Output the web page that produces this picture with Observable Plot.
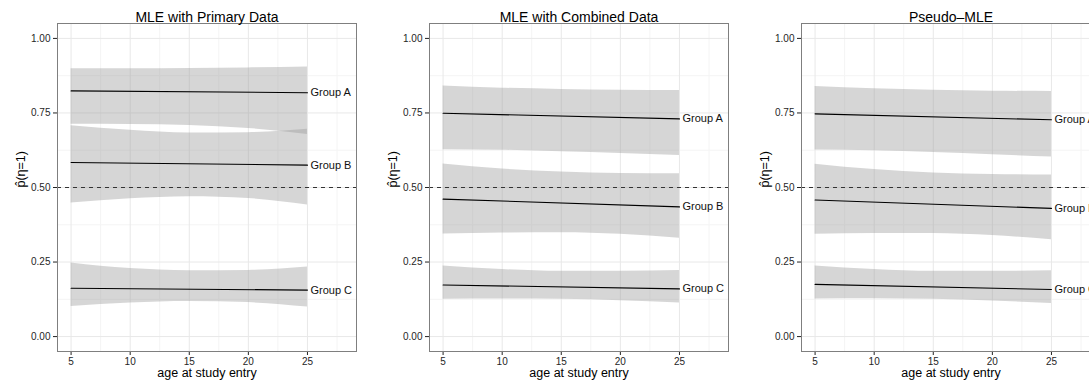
<!DOCTYPE html>
<html>
<head>
<meta charset="utf-8">
<script src="https://cdn.jsdelivr.net/npm/d3@7"></script>
<script src="https://cdn.jsdelivr.net/npm/@observablehq/plot@0.6"></script>
<style>
  html, body { margin: 0; padding: 0; background: #fff; }
  #wrap { position: relative; width: 1089px; height: 386px; overflow: hidden; background: #fff; }
  #wrap > div { position: absolute; top: 0; width: 372px; height: 386px; }
  #wrap svg { max-width: none !important; width: 372px; height: 386px; }
  #wrap svg g[aria-label*="axis"],
  #wrap svg g[aria-label*="axis"] text { font-size: 10px !important; fill: #262626; }
</style>
</head>
<body>
<div id="wrap"></div>
<script>
// ---- data ----
const ages = [5, 10, 15, 20, 25];
const lineAges = [5, 25];
const groups = ["Group A", "Group B", "Group C"];
const panelTitles = ["MLE with Primary Data", "MLE with Combined Data", "Pseudo–MLE"];

const xTicks = [5, 10, 15, 20, 25];
const xMinor = [7.5, 12.5, 17.5, 22.5, 27.5];
const yTicks = [0, 0.25, 0.5, 0.75, 1];
const yMinor = [0.125, 0.375, 0.625, 0.875];
const refLine = [0.5];

const primaryHi = [[0.898, 0.898, 0.899, 0.901, 0.904], [0.707, 0.692, 0.683, 0.684, 0.695], [0.247, 0.228, 0.221, 0.222, 0.233]];
const primaryLo = [[0.712, 0.711, 0.708, 0.698, 0.678], [0.448, 0.462, 0.469, 0.463, 0.441], [0.101, 0.113, 0.118, 0.114, 0.099]];
const primaryFit = [[0.824, 0.818], [0.584, 0.575], [0.162, 0.156]];

const combinedHi = [[0.840, 0.833, 0.829, 0.826, 0.825], [0.579, 0.562, 0.552, 0.547, 0.546], [0.237, 0.225, 0.219, 0.219, 0.222]];
const combinedLo = [[0.627, 0.625, 0.620, 0.614, 0.607], [0.344, 0.347, 0.348, 0.343, 0.330], [0.125, 0.126, 0.125, 0.120, 0.113]];
const combinedFit = [[0.749, 0.730], [0.461, 0.435], [0.173, 0.160]];

const pseudoHi = [[0.839, 0.831, 0.826, 0.823, 0.822], [0.578, 0.560, 0.549, 0.544, 0.542], [0.237, 0.225, 0.219, 0.219, 0.221]];
const pseudoLo = [[0.626, 0.623, 0.617, 0.610, 0.602], [0.343, 0.346, 0.346, 0.339, 0.325], [0.126, 0.127, 0.125, 0.119, 0.111]];
const pseudoFit = [[0.747, 0.727], [0.458, 0.430], [0.175, 0.158]];

const xLabel = "age at study entry";
const yLabel = "p\u0302(\u03B7=1)";

// ---- build ----
const FONT = "'Liberation Sans', Arial, Helvetica, sans-serif";

function panel(title, hi, lo, fit) {
  const bands = [];
  groups.forEach((g, gi) => ages.forEach((a, i) => bands.push({group: g, x: a, lo: lo[gi][i], hi: hi[gi][i]})));
  const lines = [];
  groups.forEach((g, gi) => lineAges.forEach((a, i) => lines.push({group: g, x: a, y: fit[gi][i]})));
  const ends = groups.map((g, gi) => ({group: g, x: lineAges[lineAges.length - 1], y: fit[gi][fit[gi].length - 1]}));

  return Plot.plot({
    width: 372,
    height: 386,
    marginLeft: 57,
    marginRight: 16,
    marginTop: 23,
    marginBottom: 35,
    style: {fontFamily: FONT, fontSize: "10px", color: "#222", background: "transparent"},
    x: {domain: [3.85, 29.15], ticks: xTicks, tickSize: 4, tickPadding: 2, label: null},
    y: {domain: [-0.05, 1.05], ticks: yTicks, tickSize: 4, tickPadding: 3, tickFormat: d3.format(".2f"), label: null},
    marks: [
      Plot.ruleX(xMinor, {stroke: "#f4f4f4", strokeWidth: 1}),
      Plot.ruleY(yMinor, {stroke: "#f4f4f4", strokeWidth: 1}),
      Plot.ruleX(xTicks, {stroke: "#e8e8e8", strokeWidth: 1}),
      Plot.ruleY(yTicks, {stroke: "#e8e8e8", strokeWidth: 1}),
      Plot.areaY(bands, {x: "x", y1: "lo", y2: "hi", z: "group", fill: "#999999", fillOpacity: 0.4, curve: "monotone-x"}),
      Plot.ruleY(refLine, {stroke: "#333", strokeWidth: 1, strokeDasharray: "4,4"}),
      Plot.line(lines, {x: "x", y: "y", z: "group", stroke: "#000", strokeWidth: 1.1}),
      Plot.text(ends, {x: "x", y: "y", text: "group", textAnchor: "start", dx: 3, fontSize: 11, fill: "#111"}),
      Plot.frame({stroke: "#7f7f7f", strokeWidth: 1}),
      Plot.text([title], {frameAnchor: "top", dy: -11.5, fontSize: 14, fill: "#000"}),
      Plot.text([xLabel], {frameAnchor: "bottom", dy: 25.5, fontSize: 12.5, fill: "#000"}),
      Plot.text([yLabel], {frameAnchor: "left", dx: -36.5, rotate: -90, fontSize: 12.5, fill: "#000"})
    ]
  });
}

const wrap = document.getElementById("wrap");
const specs = [
  [panelTitles[0], primaryHi, primaryLo, primaryFit],
  [panelTitles[1], combinedHi, combinedLo, combinedFit],
  [panelTitles[2], pseudoHi, pseudoLo, pseudoFit]
];
specs.forEach((s, i) => {
  const holder = document.createElement("div");
  holder.style.left = (i * 372) + "px";
  holder.appendChild(panel(...s));
  wrap.appendChild(holder);
});
</script>
</body>
</html>
